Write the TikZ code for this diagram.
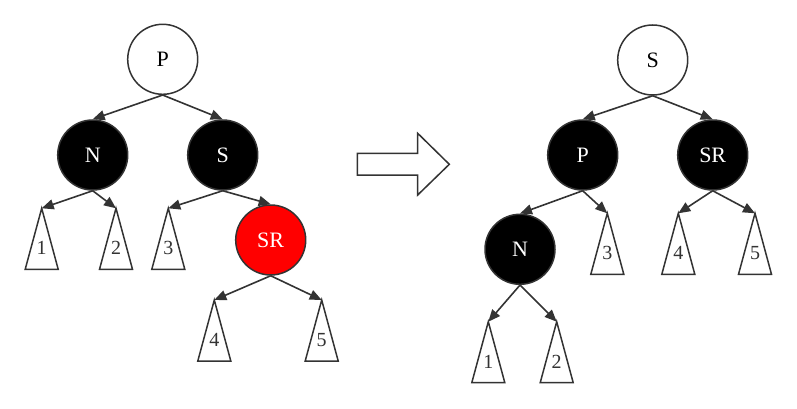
\documentclass[tikz,border=0pt]{standalone}
\usepackage{fontspec}
\setmainfont{Liberation Serif}
\usetikzlibrary{arrows.meta}
\definecolor{darkline}{HTML}{333333}

\begin{document}
\begin{tikzpicture}[x=1pt,y=-1pt,
    rbnode/.style={circle,draw=darkline,line width=1.5pt,minimum size=70pt,inner sep=0pt,font=\fontsize{22}{22}\selectfont},
    whitenode/.style={rbnode,fill=white,text=black},
    blacknode/.style={rbnode,fill=black,text=white},
    rednode/.style={rbnode,fill=red,text=white},
    link/.style={draw=darkline,line width=1.6pt,-{Triangle[length=12pt,width=10pt]}},
    subtree/.style={draw=darkline,line width=1.5pt,fill=white},
    num/.style={inner sep=0pt,text=darkline,font=\fontsize{20}{20}\selectfont}]
    \useasboundingbox (0,0) rectangle (797,409);

    % before the rotation
    \node[whitenode] (P1) at (162.7,59.3) {P};
    \node[blacknode] (N1) at (92.7,155) {N};
    \node[blacknode] (S1) at (222.7,155) {S};
    \node[rednode] (SR1) at (270.7,240) {SR};

    % after the rotation
    \node[whitenode] (S2) at (652.7,60) {S};
    \node[blacknode] (P2) at (582.7,155) {P};
    \node[blacknode] (SR2) at (712.7,155) {SR};
    \node[blacknode] (N2) at (520,249.3) {N};

    % subtrees
    \foreach \nm/\lbl/\x/\y in {a1/1/41.7/208.3, a2/2/116/208.3, a3/3/168.3/208.3,
        a4/4/214.3/300, a5/5/321.7/300,
        b1/1/488.3/321.7, b2/2/556.7/321.7, b3/3/607.3/213.3,
        b4/4/678.3/213.3, b5/5/755/213.3}{
        \coordinate (\nm) at (\x,\y);
        \draw[subtree] (\nm) -- ++(-16.5,61) -- ++(33,0) -- cycle;
        \node[num] (\nm-lbl) at (\x,\y+40) {\lbl};
    }

    \draw[link] (P1.south) -- (N1.north);
    \draw[link] (P1.south) -- (S1.north);
    \draw[link] (N1.south) -- (a1);
    \draw[link] (N1.south) -- (a2);
    \draw[link] (S1.south) -- (a3);
    \draw[link] (S1.south) -- (SR1.north);
    \draw[link] (SR1.south) -- (a4);
    \draw[link] (SR1.south) -- (a5);

    \draw[link] (S2.south) -- (P2.north);
    \draw[link] (S2.south) -- (SR2.north);
    \draw[link] (P2.south) -- (N2.north);
    \draw[link] (P2.south) -- (b3);
    \draw[link] (SR2.south) -- (b4);
    \draw[link] (SR2.south) -- (b5);
    \draw[link] (N2.south) -- (b1);
    \draw[link] (N2.south) -- (b2);

    % block arrow
    \draw[subtree] (357.3,153.3) -- (417.7,153.3) -- (417.7,133.3) -- (449.3,164.3)
        -- (417.7,195) -- (417.7,175) -- (357.3,175) -- cycle;
\end{tikzpicture}
\end{document}
